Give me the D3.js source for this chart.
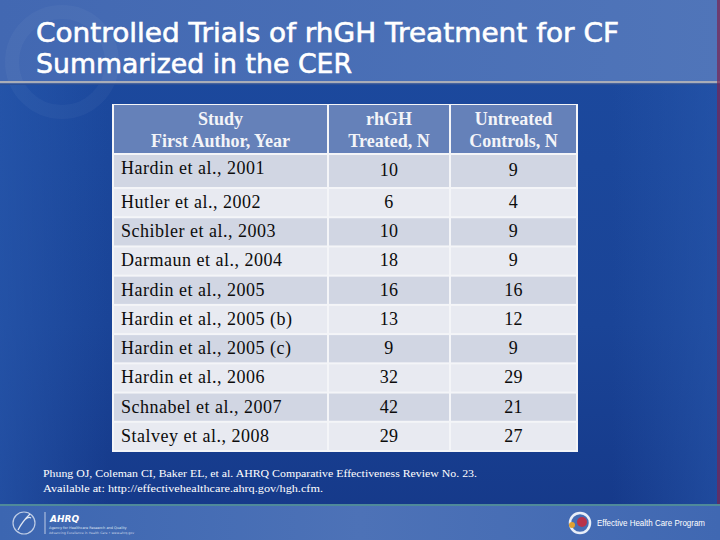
<!DOCTYPE html>
<html><head><meta charset="utf-8">
<script src="https://cdn.jsdelivr.net/npm/d3@7/dist/d3.min.js"></script>
<style>html,body{margin:0;padding:0;background:#1b4597;}svg{display:block;}</style>
</head><body>
<script>
const titleLines = ["Controlled Trials of rhGH Treatment for CF", "Summarized in the CER"];
const headers = [["Study", "First Author, Year"], ["rhGH", "Treated, N"], ["Untreated", "Controls, N"]];
const studies = ["Hardin et al., 2001", "Hutler et al., 2002", "Schibler et al., 2003", "Darmaun et al., 2004",
  "Hardin et al., 2005", "Hardin et al., 2005 (b)", "Hardin et al., 2005 (c)", "Hardin et al., 2006",
  "Schnabel et al., 2007", "Stalvey et al., 2008"];
const treated = [10, 6, 10, 18, 16, 13, 9, 32, 42, 29];
const controls = [9, 4, 9, 9, 16, 12, 9, 29, 21, 27];
const footnote = ["Phung OJ, Coleman CI, Baker EL, et al. AHRQ Comparative Effectiveness Review No. 23.",
  "Available at:  http://effectivehealthcare.ahrq.gov/hgh.cfm."];

const W = 720, H = 540;
const svg = d3.select("body").append("svg").attr("width", W).attr("height", H);
const defs = svg.append("defs");

const gTop = defs.append("linearGradient").attr("id", "gTop").attr("x1", 0).attr("x2", 1).attr("y1", 0).attr("y2", 0);
gTop.append("stop").attr("offset", 0).attr("stop-color", "#4268b2");
gTop.append("stop").attr("offset", 1).attr("stop-color", "#5075b9");
const gBody = defs.append("linearGradient").attr("id", "gBody").attr("x1", 0).attr("x2", 0).attr("y1", 0).attr("y2", 1);
gBody.append("stop").attr("offset", 0).attr("stop-color", "#1c4a9f");
gBody.append("stop").attr("offset", 0.6).attr("stop-color", "#1a4497");
gBody.append("stop").attr("offset", 1).attr("stop-color", "#153888");
const gSide = defs.append("linearGradient").attr("id", "gSide").attr("x1", 0).attr("x2", 1).attr("y1", 0).attr("y2", 0);
gSide.append("stop").attr("offset", 0).attr("stop-color", "#2a5bb0").attr("stop-opacity", 0.6);
gSide.append("stop").attr("offset", 0.15).attr("stop-color", "#2a5bb0").attr("stop-opacity", 0);
gSide.append("stop").attr("offset", 0.85).attr("stop-color", "#2a5bb0").attr("stop-opacity", 0);
gSide.append("stop").attr("offset", 1).attr("stop-color", "#2a5bb0").attr("stop-opacity", 0.5);
const gFoot = defs.append("linearGradient").attr("id", "gFoot").attr("x1", 0).attr("x2", 1).attr("y1", 0).attr("y2", 0);
gFoot.append("stop").attr("offset", 0).attr("stop-color", "#3c66b1");
gFoot.append("stop").attr("offset", 0.5).attr("stop-color", "#4d72b7");
gFoot.append("stop").attr("offset", 1).attr("stop-color", "#4068b2");

// background
svg.append("rect").attr("width", W).attr("height", H).attr("fill", "url(#gBody)");
svg.append("rect").attr("y", 83).attr("width", W).attr("height", 422).attr("fill", "url(#gSide)");
svg.append("rect").attr("width", W).attr("height", 82).attr("fill", "url(#gTop)");
// faint watermark swirl
svg.append("circle").attr("cx", 62).attr("cy", 62).attr("r", 50).attr("fill", "none")
  .attr("stroke", "#ffffff").attr("stroke-opacity", 0.035).attr("stroke-width", 14);
svg.append("rect").attr("y", 81).attr("width", W).attr("height", 2.5).attr("fill", "#a9adb8");
svg.append("rect").attr("y", 83.5).attr("width", W).attr("height", 1.5).attr("fill", "#2b4f96");
svg.append("rect").attr("x", 717).attr("width", 3).attr("height", H).attr("fill", "#7a2450").attr("opacity", 0.7);

// footer
svg.append("rect").attr("y", 505).attr("width", W).attr("height", 35).attr("fill", "url(#gFoot)");
svg.append("rect").attr("y", 504).attr("width", W).attr("height", 2).attr("fill", "#4f8a9a");

// title
svg.selectAll("text.title").data(titleLines).join("text").attr("class", "title")
  .attr("x", 36).attr("y", (d, i) => 42 + i * 31)
  .attr("fill", "#ffffff").attr("stroke", "#ffffff").attr("stroke-width", 0.6)
  .attr("font-family", "DejaVu Sans, sans-serif").attr("font-size", 27)
  .attr("textLength", (d, i) => i === 0 ? 583 : 316).attr("lengthAdjust", "spacingAndGlyphs")
  .text(d => d);

// table
const colEdges = [113, 328, 450, 577];
const x = d3.scaleOrdinal().domain([0, 1, 2]).range([colEdges[0], colEdges[1], colEdges[2]]);
const colW = i => colEdges[i + 1] - colEdges[i];
const headerTop = 104, headerBot = 154, firstRowBot = 188, tableBot = 451;
const y = d3.scaleBand().domain(d3.range(1, studies.length)).range([firstRowBot, tableBot]).padding(0);
const rowTop = i => i === 0 ? headerBot : y(i);
const rowH = i => i === 0 ? firstRowBot - headerBot : y.bandwidth();

svg.append("rect").attr("x", colEdges[0] - 1).attr("y", headerTop).attr("width", colEdges[3] - colEdges[0] + 2)
  .attr("height", tableBot - headerTop + 1).attr("fill", "#f4f5f8");

const tbl = svg.append("g");
// header cells
tbl.selectAll("rect.h").data(headers).join("rect").attr("class", "h")
  .attr("x", (d, i) => x(i) + 1).attr("y", headerTop + 1)
  .attr("width", (d, i) => colW(i) - 2).attr("height", headerBot - headerTop - 2)
  .attr("fill", "#6581b9");
tbl.selectAll("text.h").data(headers).join("text").attr("class", "h")
  .attr("x", (d, i) => x(i) + colW(i) / 2).attr("y", 125)
  .attr("text-anchor", "middle").attr("fill", "#f3f4f8")
  .attr("font-family", "Liberation Serif, Times New Roman, serif").attr("font-size", 18).attr("font-weight", "bold")
  .selectAll("tspan").data(d => d).join("tspan")
  .attr("x", function () { return d3.select(this.parentNode).attr("x"); })
  .attr("dy", (d, i) => i === 0 ? 0 : 22).text(d => d);

// body rows
const rows = tbl.selectAll("g.row").data(studies).join("g").attr("class", "row");
rows.each(function (s, i) {
  const g = d3.select(this);
  const fill = i % 2 === 0 ? "#d1d6e3" : "#e8eaf1";
  const vals = [s, treated[i], controls[i]];
  vals.forEach((v, c) => {
    g.append("rect").attr("x", x(c) + 1).attr("y", rowTop(i) + 1)
      .attr("width", colW(c) - 2).attr("height", rowH(i) - 2).attr("fill", fill);
    const ty = i === 0 ? rowTop(i) + 21 : rowTop(i) + 20;
    g.append("text")
      .attr("x", c === 0 ? x(c) + 8 : x(c) + colW(c) / 2)
      .attr("y", c === 0 && i === 0 ? ty - 1 : (i === 0 ? ty + 1 : ty))
      .attr("text-anchor", c === 0 ? "start" : "middle")
      .attr("fill", "#0c0c0c")
      .attr("font-family", "Liberation Serif, Times New Roman, serif").attr("font-size", 18)
      .attr("letter-spacing", c === 0 ? 0.5 : 0.3)
      .text(v);
  });
});

// footnote
svg.selectAll("text.fn").data(footnote).join("text").attr("class", "fn")
  .attr("x", 43).attr("y", (d, i) => 477 + i * 14.5)
  .attr("fill", "#ffffff").attr("font-family", "Liberation Serif, Times New Roman, serif").attr("font-size", 11)
  .attr("textLength", (d, i) => i === 0 ? 434 : 280).attr("lengthAdjust", "spacingAndGlyphs")
  .text(d => d);

// footer logos (simplified)
const lg = svg.append("g").attr("fill", "none").attr("stroke", "#dfe6f2").attr("stroke-width", 1.2);
lg.append("circle").attr("cx", 24).attr("cy", 523).attr("r", 11).attr("stroke-opacity", 0.8);
lg.append("path").attr("d", "M18,530 C22,522 26,518 30,514 M20,526 C24,520 28,516 31,518");
svg.append("line").attr("x1", 45).attr("x2", 45).attr("y1", 512).attr("y2", 534).attr("stroke", "#dfe6f2").attr("stroke-width", 0.8);
svg.append("text").attr("x", 50).attr("y", 522).attr("fill", "#ffffff").attr("font-family", "DejaVu Sans, sans-serif")
  .attr("font-size", 9).attr("font-weight", "bold").attr("font-style", "italic").text("AHRQ");
svg.append("text").attr("x", 49).attr("y", 529).attr("fill", "#dfe6f2").attr("font-family", "DejaVu Sans, sans-serif")
  .attr("font-size", 3.5).text("Agency for Healthcare Research and Quality");
svg.append("text").attr("x", 49).attr("y", 534).attr("fill", "#c8d2e6").attr("font-family", "DejaVu Sans, sans-serif")
  .attr("font-size", 3.2).text("Advancing Excellence in Health Care • www.ahrq.gov");

const eg = svg.append("g");
eg.append("circle").attr("cx", 580).attr("cy", 523).attr("r", 10).attr("fill", "none").attr("stroke", "#e8eef8").attr("stroke-width", 2.5);
eg.append("circle").attr("cx", 582).attr("cy", 522).attr("r", 5).attr("fill", "#b8324a");
eg.append("circle").attr("cx", 572).attr("cy", 525).attr("r", 3).attr("fill", "#e0a030");
svg.append("text").attr("x", 597).attr("y", 526).attr("fill", "#ffffff").attr("font-family", "Liberation Sans, Arial, sans-serif")
  .attr("font-size", 9).attr("textLength", 108).attr("lengthAdjust", "spacingAndGlyphs").text("Effective Health Care Program");
</script>
</body></html>
